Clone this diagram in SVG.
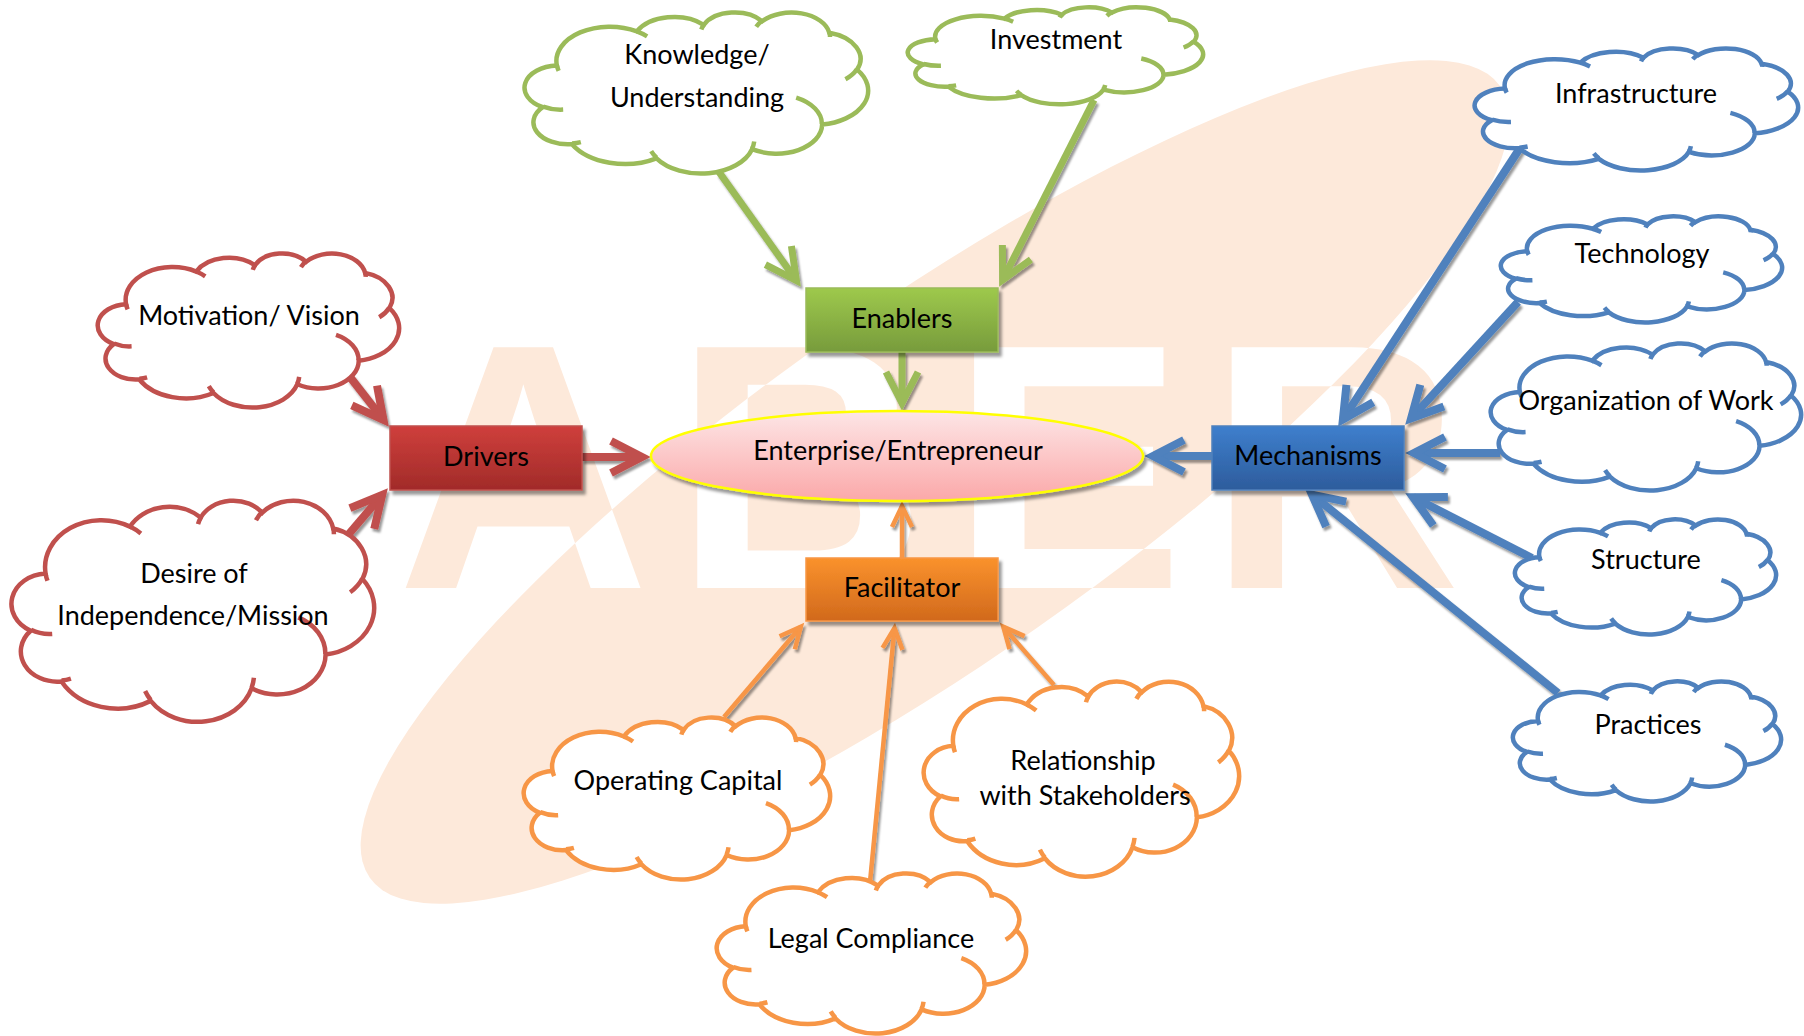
<svg xmlns="http://www.w3.org/2000/svg" xmlns:xlink="http://www.w3.org/1999/xlink" width="1804" height="1036" viewBox="0 0 1804 1036">
<style>
  text{font-family:Lato,"Open Sans","Liberation Sans",sans-serif;font-size:27px;fill:#000;stroke:none;text-anchor:middle}
  .wm{font-family:"Liberation Sans",Arial,sans-serif;font-weight:bold;font-size:350px;text-anchor:start}
  .cloud{stroke-width:4.5}
  .cg{stroke:#9bbb59}
  .cr{stroke:#c0504d}
  .cb{stroke:#4f81bd}
  .co{stroke:#f79646}
  .conn path{fill:none}
  .lg{stroke:#9bbb59;stroke-width:7}
  .lr{stroke:#c0504d;stroke-width:8}
  .lb{stroke:#4f81bd;stroke-width:8}
  .lo{stroke:#f79646;stroke-width:4.5}
</style>
<defs>
  <path id="cloudO" vector-effect="non-scaling-stroke" fill="#fff" d="M3900 14370A6753 9190 0 0 1 14005 5202A5333 7267 0 0 1 22456 3432A4365 5945 0 0 1 29834 2481A4857 6595 0 0 1 38319 5576A5333 7273 0 0 1 41820 15460A6775 9220 0 0 1 37405 30202A5785 7867 0 0 1 28556 36812A6752 9215 0 0 1 16482 39267A7720 10543 0 0 1 5805 35473A4360 5918 0 0 1 2114 25551A4345 5945 0 0 1 3900 14370Z"/>
  <path id="cloudI" vector-effect="non-scaling-stroke" fill="none" d="M4693 26177A4345 5945 0 0 1 2159 25379M6928 34899A4360 5918 0 0 1 5819 35280M16478 39090A6752 9215 0 0 1 15809 37346M28827 34751A6752 9215 0 0 1 28560 36660M34129 22954A5785 7867 0 0 1 37381 30090M41798 15354A5333 7273 0 0 1 40350 18030M38324 5426A4857 6595 0 0 1 38400 6690M29078 3952A4857 6595 0 0 1 29820 2340M22141 4720A4365 5945 0 0 1 22500 3331M14000 5192A6753 9190 0 0 1 15300 6541M4127 15789A6753 9190 0 0 1 3900 14371"/>
  <linearGradient id="gG" x1="0" y1="0" x2="0" y2="1"><stop offset="0" stop-color="#9ec94c"/><stop offset="1" stop-color="#779b3c"/></linearGradient>
  <linearGradient id="gR" x1="0" y1="0" x2="0" y2="1"><stop offset="0" stop-color="#cf3f3c"/><stop offset="1" stop-color="#a12b29"/></linearGradient>
  <linearGradient id="gB" x1="0" y1="0" x2="0" y2="1"><stop offset="0" stop-color="#3e7fcd"/><stop offset="1" stop-color="#2d5c9c"/></linearGradient>
  <linearGradient id="gO" x1="0" y1="0" x2="0" y2="1"><stop offset="0" stop-color="#fa922d"/><stop offset="1" stop-color="#d1691c"/></linearGradient>
  <linearGradient id="gP" x1="0" y1="0" x2="0" y2="1"><stop offset="0" stop-color="#fde6e6"/><stop offset="1" stop-color="#fba8a9"/></linearGradient>
  <filter id="bs" x="-10%" y="-20%" width="130%" height="150%"><feDropShadow dx="3" dy="4" stdDeviation="1.5" flood-color="#000" flood-opacity="0.4"/></filter>
  <filter id="ls" x="-5%" y="-5%" width="110%" height="110%"><feDropShadow dx="2" dy="3" stdDeviation="1.2" flood-color="#000" flood-opacity="0.4"/></filter>
  <marker id="aG" markerUnits="userSpaceOnUse" orient="auto" overflow="visible" markerWidth="1" markerHeight="1" refX="0" refY="0"><path d="M-31,-16L0,0L-31,16" fill="none" stroke="#9bbb59" stroke-width="7"/></marker>
  <marker id="aR" markerUnits="userSpaceOnUse" orient="auto" overflow="visible" markerWidth="1" markerHeight="1" refX="0" refY="0"><path d="M-31,-16L0,0L-31,16" fill="none" stroke="#c0504d" stroke-width="8"/></marker>
  <marker id="aB" markerUnits="userSpaceOnUse" orient="auto" overflow="visible" markerWidth="1" markerHeight="1" refX="0" refY="0"><path d="M-31,-16L0,0L-31,16" fill="none" stroke="#4f81bd" stroke-width="8"/></marker>
  <marker id="aO" markerUnits="userSpaceOnUse" orient="auto" overflow="visible" markerWidth="1" markerHeight="1" refX="0" refY="0"><path d="M-21,-10L0,0L-21,10" fill="none" stroke="#f79646" stroke-width="4.5"/></marker>
  <mask id="mE" maskUnits="userSpaceOnUse" x="0" y="0" width="1804" height="1036">
    <rect width="1804" height="1036" fill="#fff"/>
    <text class="wm" x="397" y="588" textLength="1064" lengthAdjust="spacing" style="fill:#000">ABER</text>
  </mask>
  <mask id="mT" maskUnits="userSpaceOnUse" x="0" y="0" width="1804" height="1036">
    <rect width="1804" height="1036" fill="#fff"/>
    <ellipse cx="935" cy="482" rx="690" ry="178" transform="rotate(-35 935 482)" fill="#000"/>
  </mask>
</defs>

<rect width="1804" height="1036" fill="#fff"/>

<g id="watermark">
  <g mask="url(#mE)">
    <ellipse cx="935" cy="482" rx="690" ry="178" transform="rotate(-35 935 482)" fill="#fde9da"/>
  </g>
  <g mask="url(#mT)">
    <text class="wm" x="397" y="588" textLength="1064" lengthAdjust="spacing" style="fill:#fde9da">ABER</text>
  </g>
</g>

<g id="connectors" class="conn" filter="url(#ls)">
  <path class="lg" d="M719,172L796.4,280.5" marker-end="url(#aG)"/>
  <path class="lg" d="M1094,100L1002.6,279.9" marker-end="url(#aG)"/>
  <path class="lg" d="M902,352L902,403" marker-end="url(#aG)"/>
  <path class="lr" d="M350,377L383.5,419.9" marker-end="url(#aR)"/>
  <path class="lr" d="M348,535L382.2,494.9" marker-end="url(#aR)"/>
  <path class="lr" d="M582,457L642,457" marker-end="url(#aR)"/>
  <path class="lb" d="M1212,456L1153,456" marker-end="url(#aB)"/>
  <path class="lb" d="M1520,148L1342.9,419.5" marker-end="url(#aB)"/>
  <path class="lb" d="M1518,302L1411.1,418.4" marker-end="url(#aB)"/>
  <path class="lb" d="M1500,453L1414,453" marker-end="url(#aB)"/>
  <path class="lb" d="M1532,558L1413,497.1" marker-end="url(#aB)"/>
  <path class="lb" d="M1558,693L1312,494.7" marker-end="url(#aB)"/>
  <path class="lo" d="M902,558L902,506" marker-end="url(#aO)"/>
  <path class="lo" d="M724,717L800.8,626.8" marker-end="url(#aO)"/>
  <path class="lo" d="M870,882L894.5,628" marker-end="url(#aO)"/>
  <path class="lo" d="M1054,685L1003.3,626.8" marker-end="url(#aO)"/>
</g>

<g id="n-enterprise">
  <ellipse cx="897" cy="456" rx="246" ry="45" fill="url(#gP)" stroke="#ffff00" stroke-width="2.5" filter="url(#bs)"/>
  <text x="898" y="460">Enterprise/Entrepreneur</text>
</g>
<g id="n-enablers">
  <rect x="806" y="288" width="192" height="64" fill="url(#gG)" stroke="#9bbb59" stroke-width="1.5" filter="url(#bs)"/>
  <text x="902" y="328">Enablers</text>
</g>
<g id="n-drivers">
  <rect x="390" y="426" width="192" height="64" fill="url(#gR)" stroke="#c0504d" stroke-width="1.5" filter="url(#bs)"/>
  <text x="486" y="466">Drivers</text>
</g>
<g id="n-mechanisms">
  <rect x="1212" y="426" width="192" height="64" fill="url(#gB)" stroke="#4f81bd" stroke-width="1.5" filter="url(#bs)"/>
  <text x="1308" y="465">Mechanisms</text>
</g>
<g id="n-facilitator">
  <rect x="806" y="558" width="192" height="63" fill="url(#gO)" stroke="#f79646" stroke-width="1.5" filter="url(#bs)"/>
  <text x="902" y="597">Facilitator</text>
</g>

<g id="n-knowledge" class="cloud cg">
  <g transform="translate(526 12) scale(0.0079167 0.0037269)"><use href="#cloudO"/><use href="#cloudI"/></g>
  <text x="697" y="64">Knowledge/</text>
  <text x="697" y="107">Understanding</text>
</g>
<g id="n-investment" class="cloud cg">
  <g transform="translate(909 7) scale(0.0068056 0.0022454)"><use href="#cloudO"/><use href="#cloudI"/></g>
  <text x="1056" y="49">Investment</text>
</g>
<g id="n-motivation" class="cloud cr">
  <g transform="translate(99 253) scale(0.0069444 0.0035648)"><use href="#cloudO"/><use href="#cloudI"/></g>
  <text x="249" y="325">Motivation/ Vision</text>
</g>
<g id="n-desire" class="cloud cr">
  <g transform="translate(13 500) scale(0.0083565 0.0051157)"><use href="#cloudO"/><use href="#cloudI"/></g>
  <text x="194" y="583">Desire of</text>
  <text x="193" y="625">Independence/Mission</text>
</g>
<g id="n-infrastructure" class="cloud cb">
  <g transform="translate(1476 48) scale(0.0074537 0.0028241)"><use href="#cloudO"/><use href="#cloudI"/></g>
  <text x="1636" y="103">Infrastructure</text>
</g>
<g id="n-technology" class="cloud cb">
  <g transform="translate(1502 216) scale(0.0064815 0.0024537)"><use href="#cloudO"/><use href="#cloudI"/></g>
  <text x="1642" y="263">Technology</text>
</g>
<g id="n-organization" class="cloud cb">
  <g transform="translate(1492 343) scale(0.0071528 0.0034028)"><use href="#cloudO"/><use href="#cloudI"/></g>
  <text x="1646" y="410">Organization of Work</text>
</g>
<g id="n-structure" class="cloud cb">
  <g transform="translate(1516 519) scale(0.0060185 0.0026620)"><use href="#cloudO"/><use href="#cloudI"/></g>
  <text x="1646" y="569">Structure</text>
</g>
<g id="n-practices" class="cloud cb">
  <g transform="translate(1514 681) scale(0.0061806 0.0027778)"><use href="#cloudO"/><use href="#cloudI"/></g>
  <text x="1648" y="734">Practices</text>
</g>
<g id="n-operating" class="cloud co">
  <g transform="translate(525 717) scale(0.0070602 0.0037500)"><use href="#cloudO"/><use href="#cloudI"/></g>
  <text x="678" y="790">Operating Capital</text>
</g>
<g id="n-legal" class="cloud co">
  <g transform="translate(718 873) scale(0.0071296 0.0037037)"><use href="#cloudO"/><use href="#cloudI"/></g>
  <text x="871" y="948">Legal Compliance</text>
</g>
<g id="n-relationship" class="cloud co">
  <g transform="translate(925 681) scale(0.0072685 0.0045139)"><use href="#cloudO"/><use href="#cloudI"/></g>
  <text x="1083" y="770">Relationship</text>
  <text x="1085" y="805">with Stakeholders</text>
</g>
</svg>
